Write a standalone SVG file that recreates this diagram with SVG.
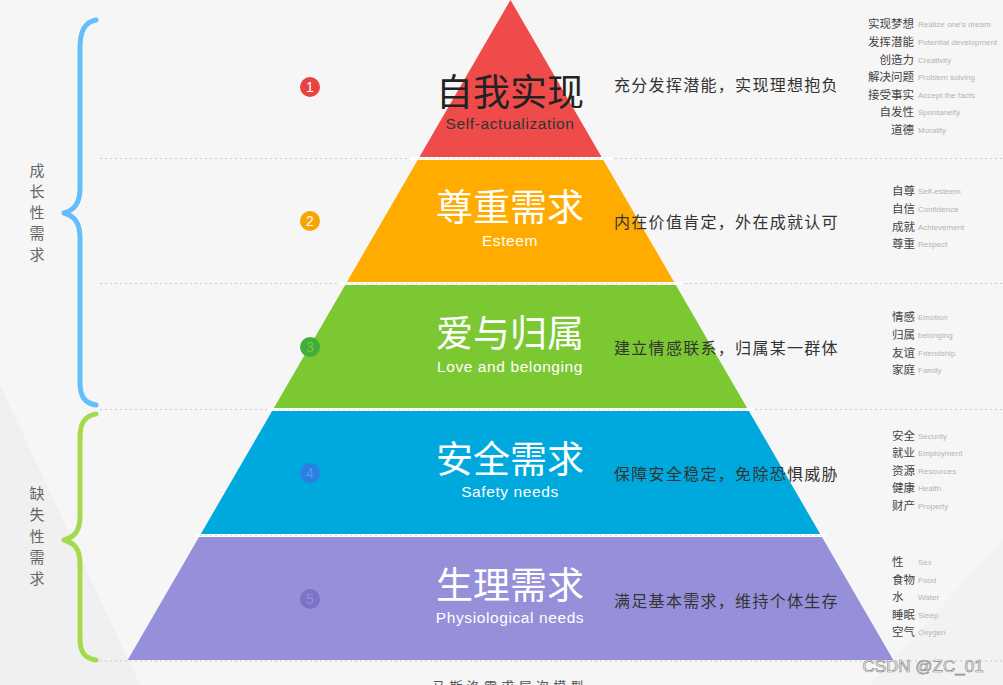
<svg xmlns="http://www.w3.org/2000/svg" width="1003" height="685" viewBox="0 0 1003 685">
<style>
.title{font-family:"Noto Sans CJK SC","Noto Sans",sans-serif;font-size:37px;text-anchor:middle;fill:#fff}
.sub{font-family:"Liberation Sans",Arial,sans-serif;font-size:15.5px;text-anchor:middle;fill:#fff;letter-spacing:0.6px}
.desc{font-family:"Noto Sans CJK SC",sans-serif;font-size:16px;fill:#333;letter-spacing:1.3px}
.cn{font-family:"Noto Sans CJK SC",sans-serif;font-size:11.5px;fill:#444}
.en{font-family:"Liberation Sans",Arial,sans-serif;font-size:8px;fill:#b4b4b4}
.side{font-family:"Noto Sans CJK SC",sans-serif;font-size:15px;fill:#666;text-anchor:middle}
.num{font-family:"Liberation Sans",Arial,sans-serif;font-size:14px;text-anchor:middle}
.dot{stroke:#c8c8c8;stroke-width:1.2;stroke-dasharray:2 3;fill:none}
.seam{stroke:#fff;stroke-width:3;fill:none}
.brace{fill:none;stroke-width:5;stroke-linecap:round;stroke-linejoin:round}
</style>
<rect width="1003" height="685" fill="#f6f6f6"/>
<polygon points="0,385 140,685 0,685" fill="#f0f0f0"/>
<polygon points="870,685 1003,540 1003,685" fill="#f2f2f2"/>

<g id="guides">
<line class="dot" x1="100" y1="158.5" x2="1003" y2="158.5"/>
<line class="dot" x1="100" y1="283.5" x2="1003" y2="283.5"/>
<line class="dot" x1="100" y1="409.5" x2="1003" y2="409.5"/>
<line class="dot" x1="100" y1="661" x2="1003" y2="661"/>
</g>

<g id="level1">
<polygon points="510.5,0 601.6,157 419.4,157" fill="#ef4b4b"/>
<text class="title" x="510" y="106" style="fill:#222">自我实现</text>
<text class="sub" x="510" y="129" style="fill:#333">Self-actualization</text>
<circle cx="310" cy="87" r="10" fill="#e84343"/><text class="num" x="310" y="92" fill="#fff">1</text>
<text class="desc" x="614" y="91">充分发挥潜能，实现理想抱负</text>
</g>
<g id="level2">
<polygon points="417.7,160 603.3,160 674.1,282 346.9,282" fill="#ffab00"/>
<text class="title" x="510" y="221">尊重需求</text>
<text class="sub" x="510" y="246">Esteem</text>
<circle cx="310" cy="221" r="10" fill="#f7a500"/><text class="num" x="310" y="226" fill="#fff">2</text>
<text class="desc" x="614" y="228">内在价值肯定，外在成就认可</text>
</g>
<g id="level3">
<polygon points="345.2,285 675.8,285 747.1,408 273.9,408" fill="#7bc832"/>
<text class="title" x="510" y="347">爱与归属</text>
<text class="sub" x="510" y="372">Love and belonging</text>
<circle cx="310" cy="347" r="10" fill="#3fae3a"/><text class="num" x="310" y="352" fill="#7bc832">3</text>
<text class="desc" x="614" y="354">建立情感联系，归属某一群体</text>
</g>
<g id="level4">
<polygon points="272.1,411 748.9,411 820.2,534 200.8,534" fill="#00a9dd"/>
<text class="title" x="510" y="473">安全需求</text>
<text class="sub" x="510" y="497">Safety needs</text>
<circle cx="310" cy="473" r="10" fill="#2b7ee3"/><text class="num" x="310" y="478" fill="#4aa0e8">4</text>
<text class="desc" x="614" y="480">保障安全稳定，免除恐惧威胁</text>
</g>
<g id="level5">
<polygon points="199,537 822,537 893.3,660 127.7,660" fill="#9690da"/>
<text class="title" x="510" y="599">生理需求</text>
<text class="sub" x="510" y="623">Physiological needs</text>
<circle cx="310" cy="599" r="10" fill="#7a73c8"/><text class="num" x="310" y="604" fill="#9690da">5</text>
<text class="desc" x="614" y="607">满足基本需求，维持个体生存</text>
</g>

<g id="seams">
<line class="seam" x1="410" y1="158.5" x2="612" y2="158.5"/>
<line class="dot" x1="418" y1="158.5" x2="604" y2="158.5" style="stroke:#e0d8c8"/>
<line class="seam" x1="340" y1="283.5" x2="682" y2="283.5"/>
<line class="dot" x1="346" y1="283.5" x2="676" y2="283.5" style="stroke:#e0e0c8"/>
<line class="seam" x1="268" y1="409.5" x2="754" y2="409.5"/>
<line class="dot" x1="273" y1="409.5" x2="748" y2="409.5" style="stroke:#d8e8d0"/>
<line class="seam" x1="196" y1="535.5" x2="826" y2="535.5"/>
<line class="dot" x1="200" y1="535.5" x2="821" y2="535.5" style="stroke:#d0e0e8"/>
</g>

<g id="brace-growth">
<path class="brace" stroke="#63befb" d="M96,20 C84,22 80,32 80,48 L80,188 C80,204 74,210 64,213 C74,216 80,222 80,238 L80,382 C80,396 84,403 96,405"/>
<text class="side" x="37" y="176">成</text>
<text class="side" x="37" y="197">长</text>
<text class="side" x="37" y="218">性</text>
<text class="side" x="37" y="239">需</text>
<text class="side" x="37" y="260">求</text>
</g>
<g id="brace-deficit">
<path class="brace" stroke="#a5da50" d="M96,414 C84,416 80,424 80,438 L80,516 C80,532 74,537 64,540 C74,543 80,548 80,564 L80,638 C80,652 84,658 96,660"/>
<text class="side" x="37" y="499">缺</text>
<text class="side" x="37" y="520">失</text>
<text class="side" x="37" y="542">性</text>
<text class="side" x="37" y="563">需</text>
<text class="side" x="37" y="584">求</text>
</g>

<g id="list1">
<text class="cn" x="914" y="28" text-anchor="end">实现梦想</text>
<text class="cn" x="914" y="46" text-anchor="end">发挥潜能</text>
<text class="cn" x="914" y="64" text-anchor="end">创造力</text>
<text class="cn" x="914" y="81" text-anchor="end">解决问题</text>
<text class="cn" x="914" y="99" text-anchor="end">接受事实</text>
<text class="cn" x="914" y="116" text-anchor="end">自发性</text>
<text class="cn" x="914" y="134" text-anchor="end">道德</text>
<text class="en" x="918" y="27">Realize one's dream</text>
<text class="en" x="918" y="45">Potential development</text>
<text class="en" x="918" y="63">Creativity</text>
<text class="en" x="918" y="80">Problem solving</text>
<text class="en" x="918" y="98">Accept the facts</text>
<text class="en" x="918" y="115">Spontaneity</text>
<text class="en" x="918" y="133">Morality</text>
</g>
<g id="list2">
<text class="cn" x="892" y="195">自尊</text><text class="en" x="918" y="194">Self-esteem</text>
<text class="cn" x="892" y="213">自信</text><text class="en" x="918" y="212">Confidence</text>
<text class="cn" x="892" y="231">成就</text><text class="en" x="918" y="230">Achievement</text>
<text class="cn" x="892" y="248">尊重</text><text class="en" x="918" y="247">Respect</text>
</g>
<g id="list3">
<text class="cn" x="892" y="321">情感</text><text class="en" x="918" y="320">Emotion</text>
<text class="cn" x="892" y="339">归属</text><text class="en" x="918" y="338">belonging</text>
<text class="cn" x="892" y="357">友谊</text><text class="en" x="918" y="356">Friendship</text>
<text class="cn" x="892" y="374">家庭</text><text class="en" x="918" y="373">Family</text>
</g>
<g id="list4">
<text class="cn" x="892" y="440">安全</text><text class="en" x="918" y="439">Security</text>
<text class="cn" x="892" y="457">就业</text><text class="en" x="918" y="456">Employment</text>
<text class="cn" x="892" y="475">资源</text><text class="en" x="918" y="474">Resources</text>
<text class="cn" x="892" y="492">健康</text><text class="en" x="918" y="491">Health</text>
<text class="cn" x="892" y="510">财产</text><text class="en" x="918" y="509">Property</text>
</g>
<g id="list5">
<text class="cn" x="892" y="566">性</text><text class="en" x="918" y="565">Sex</text>
<text class="cn" x="892" y="584">食物</text><text class="en" x="918" y="583">Food</text>
<text class="cn" x="892" y="601">水</text><text class="en" x="918" y="600">Water</text>
<text class="cn" x="892" y="619">睡眠</text><text class="en" x="918" y="618">Sleep</text>
<text class="cn" x="892" y="636">空气</text><text class="en" x="918" y="635">Oxygen</text>
</g>

<text x="510" y="691" text-anchor="middle" font-family="Noto Sans CJK SC, sans-serif" font-size="13" fill="#555" letter-spacing="4.3">马斯洛需求层次模型</text>
<text x="923" y="672" text-anchor="middle" font-family="Liberation Sans, Arial, sans-serif" font-size="17" fill="#fff" stroke="#8a8a8a" stroke-width="0.7">CSDN @ZC_01</text>
</svg>
